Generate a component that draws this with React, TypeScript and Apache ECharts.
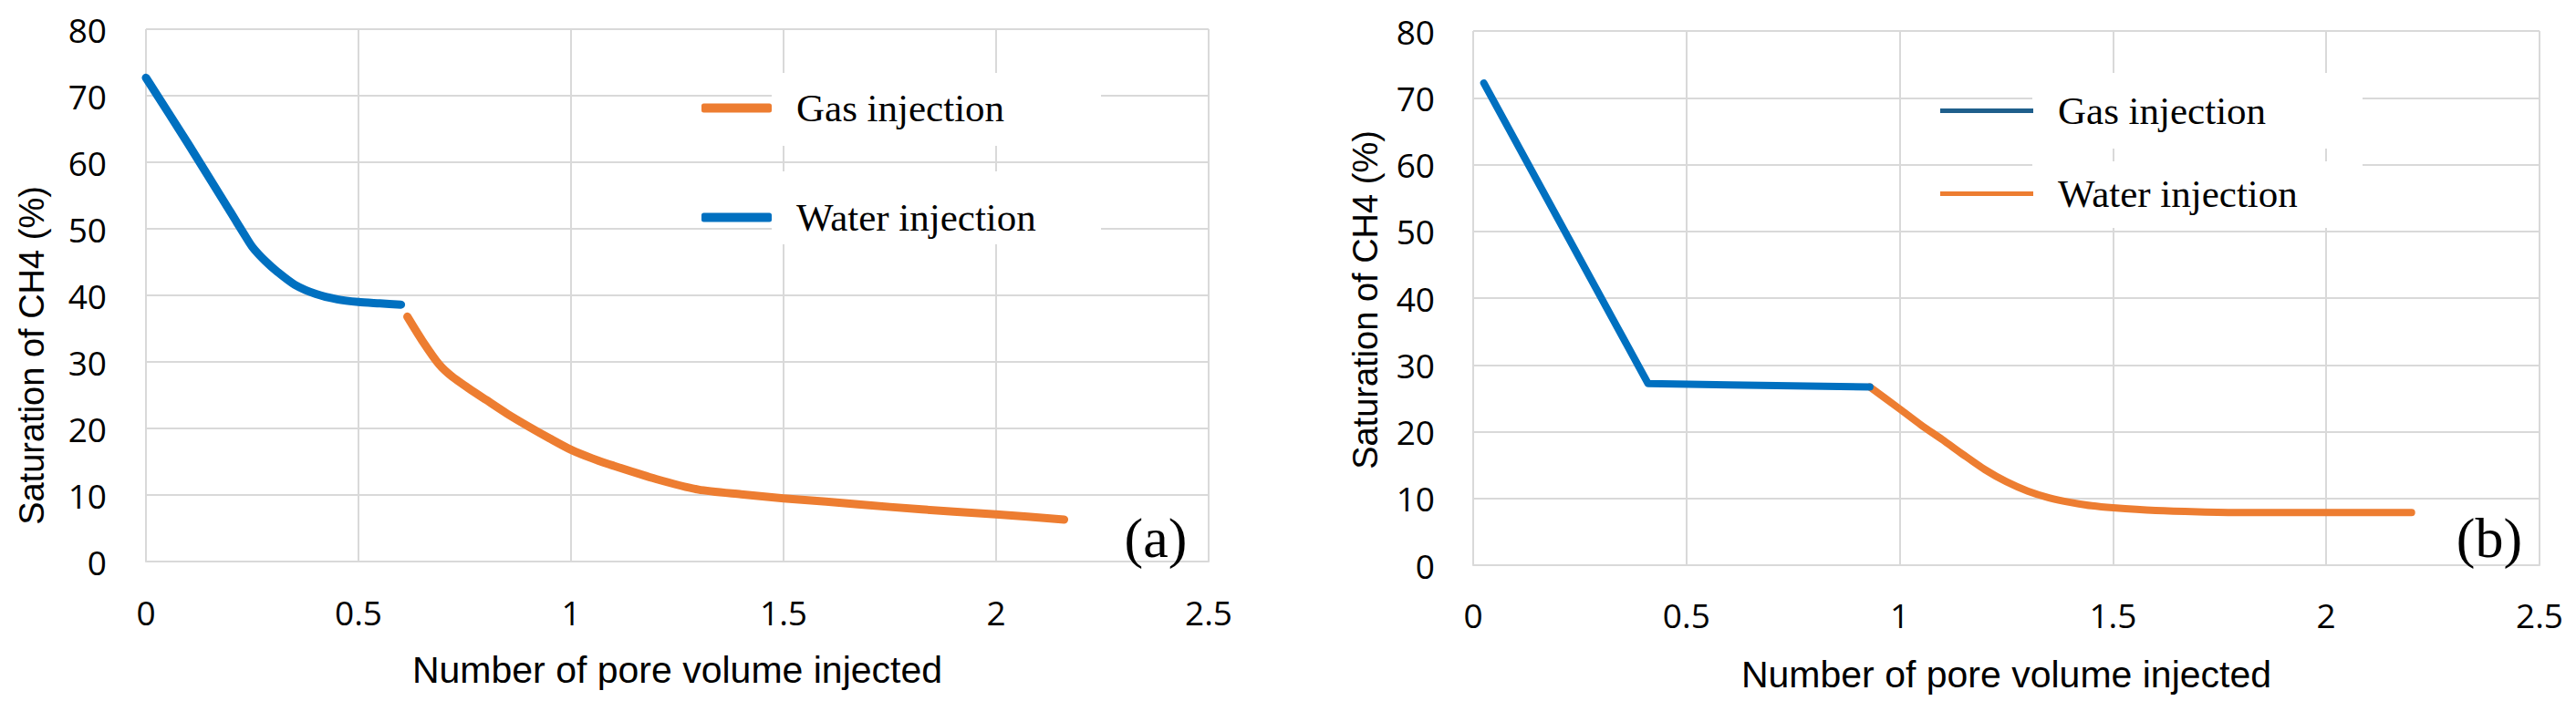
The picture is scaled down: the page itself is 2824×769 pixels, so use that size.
import React, { useEffect, useRef } from "react";
import * as echarts from "echarts";

// ---- data ----
const xTickInterval = 0.5;
const xMax = 2.5;
const yTickInterval = 10;
const yMax = 80;

// Panel (a)
const aWaterX = [0, 0.1, 0.2, 0.23, 0.25, 0.28, 0.31, 0.35, 0.4, 0.45, 0.5, 0.55, 0.6];
const aWaterY = [72.7, 62.7, 52.4, 49.3, 47.3, 45.2, 43.5, 41.6, 40.2, 39.4, 39.0, 38.8, 38.6];
const aGasX = [0.615, 0.65, 0.69, 0.72, 0.76, 0.8, 0.85, 0.9, 0.95, 1.0, 1.05, 1.1, 1.2, 1.3, 1.4, 1.5, 1.6, 1.75, 1.9, 2.0, 2.16];
const aGasY = [36.8, 33.2, 29.6, 27.8, 26.0, 24.3, 22.2, 20.3, 18.5, 16.8, 15.5, 14.4, 12.4, 10.8, 10.1, 9.5, 9.0, 8.2, 7.5, 7.1, 6.3];

// Panel (b)
const bGasX = [0.025, 0.41, 0.6, 0.93];
const bGasY = [72.2, 27.2, 27.0, 26.7];
const bWaterX = [0.93, 1.0, 1.05, 1.1, 1.15, 1.2, 1.25, 1.3, 1.35, 1.4, 1.45, 1.5, 1.6, 1.7, 1.8, 2.0, 2.2];
const bWaterY = [26.7, 23.4, 21.0, 18.8, 16.5, 14.3, 12.5, 11.1, 10.1, 9.4, 8.9, 8.6, 8.2, 8.0, 7.9, 7.9, 7.9];

const seriesNames = ["Gas injection", "Water injection"];
const panelLabels = ["(a)", "(b)"];
const xTitle = "Number of pore volume injected";
const yTitle = "Saturation of CH4 (%)";

const ORANGE = "#ED7D31";
const BLUE = "#0070C0";
const DARKBLUE = "#1F5F8C";
const GRID = "#D9D9D9";

const zip = (xs: number[], ys: number[]) => xs.map((x, i) => [x, ys[i]]);

const TICK_FONT = "'Open Sans', 'Noto Sans', sans-serif";
const TITLE_FONT = "'Liberation Sans', Arial, sans-serif";
const SERIF = "'Liberation Serif', 'DejaVu Serif', serif";

export default function App() {
  const ref = useRef<HTMLDivElement>(null);

  useEffect(() => {
    document.body.style.margin = "0";
    if (!ref.current) return;
    const chart = echarts.init(ref.current, undefined, { renderer: "svg" });

    const mkX = (gridIndex: number, nameGap: number, labelMargin: number) => ({
      type: "value",
      gridIndex,
      min: 0,
      max: xMax,
      interval: xTickInterval,
      name: xTitle,
      nameLocation: "middle",
      nameGap,
      nameTextStyle: { fontFamily: TITLE_FONT, fontSize: 41, color: "#000" },
      axisLine: { show: true, lineStyle: { color: GRID, width: 2 } },
      axisTick: { show: false },
      axisLabel: {
        margin: labelMargin,
        fontFamily: TICK_FONT,
        fontSize: 37,
        color: "#000",
      },
      splitLine: { show: true, lineStyle: { color: GRID, width: 2 } },
    });
    const mkY = (gridIndex: number, labelMargin: number) => ({
      type: "value",
      gridIndex,
      min: 0,
      max: yMax,
      interval: yTickInterval,
      axisLine: { show: false },
      axisTick: { show: false },
      axisLabel: {
        margin: labelMargin,
        fontFamily: TICK_FONT,
        fontSize: 37,
        color: "#000",
      },
      splitLine: { show: true, lineStyle: { color: GRID, width: 2 } },
    });

    const mkLegend = (
      name: string,
      left: number,
      top: number,
      color: string,
      w: number,
      h: number,
      icon: string
    ) => ({
      left,
      top,
      padding: 0,
      itemWidth: w,
      itemHeight: h,
      icon,
      selectedMode: false,
      data: [{ name, itemStyle: { color }, icon }],
      textStyle: {
        fontFamily: SERIF,
        fontSize: 43,
        color: "#000",
        padding: [0, 0, 0, 22],
      },
    });

    const lineSeries = (
      name: string,
      idx: number,
      xs: number[],
      ys: number[],
      color: string,
      width: number,
      smooth: number | boolean
    ) => ({
      name,
      type: "line",
      xAxisIndex: idx,
      yAxisIndex: idx,
      data: zip(xs, ys),
      showSymbol: false,
      symbol: "none",
      smooth,
      lineStyle: { color, width, cap: "round", join: "round" },
      itemStyle: { color },
    });

    chart.setOption({
      animation: false,
      backgroundColor: "#fff",
      grid: [
        { left: 160, top: 32, width: 1165, height: 584 },
        { left: 1615, top: 34, width: 1169, height: 586 },
      ],
      xAxis: [mkX(0, 98, 37), mkX(1, 99, 36)],
      yAxis: [mkY(0, 43), mkY(1, 42)],
      legend: [
        mkLegend(seriesNames[0], 769, 97, ORANGE, 77, 10, "roundRect"),
        mkLegend(seriesNames[1], 769, 217, BLUE, 77, 10, "roundRect"),
        mkLegend(seriesNames[0], 2127, 100, DARKBLUE, 102, 5, "rect"),
        mkLegend(seriesNames[1], 2127, 191, ORANGE, 102, 5, "rect"),
      ],
      graphic: [
        { type: "rect", z: 1, shape: { x: 846, y: 80, width: 361, height: 80 }, style: { fill: "#fff" } },
        { type: "rect", z: 1, shape: { x: 846, y: 188, width: 361, height: 80 }, style: { fill: "#fff" } },
        { type: "rect", z: 1, shape: { x: 2228, y: 80, width: 362, height: 83 }, style: { fill: "#fff" } },
        { type: "rect", z: 1, shape: { x: 2228, y: 177, width: 362, height: 73 }, style: { fill: "#fff" } },
        {
          type: "text",
          z: 5,
          x: 35,
          y: 390,
          rotation: Math.PI / 2,
          style: { text: yTitle, font: `38px ${TITLE_FONT}`, fill: "#000", align: "center", verticalAlign: "middle" },
        },
        {
          type: "text",
          z: 5,
          x: 1497,
          y: 329,
          rotation: Math.PI / 2,
          style: { text: yTitle, font: `38px ${TITLE_FONT}`, fill: "#000", align: "center", verticalAlign: "middle" },
        },
        {
          type: "text",
          z: 5,
          x: 1267,
          y: 590,
          style: { text: panelLabels[0], font: `62px ${SERIF}`, fill: "#000", align: "center", verticalAlign: "middle" },
        },
        {
          type: "text",
          z: 5,
          x: 2729,
          y: 590,
          style: { text: panelLabels[1], font: `62px ${SERIF}`, fill: "#000", align: "center", verticalAlign: "middle" },
        },
      ],
      series: [
        lineSeries(seriesNames[1], 0, aWaterX, aWaterY, BLUE, 9, 0.25),
        lineSeries(seriesNames[0], 0, aGasX, aGasY, ORANGE, 9, 0.25),
        lineSeries(seriesNames[1], 1, bWaterX, bWaterY, ORANGE, 8, 0.25),
        lineSeries(seriesNames[0], 1, bGasX, bGasY, BLUE, 8, false),
      ],
    });

    return () => chart.dispose();
  }, []);

  return <div ref={ref} style={{ width: 2824, height: 769 }} />;
}
